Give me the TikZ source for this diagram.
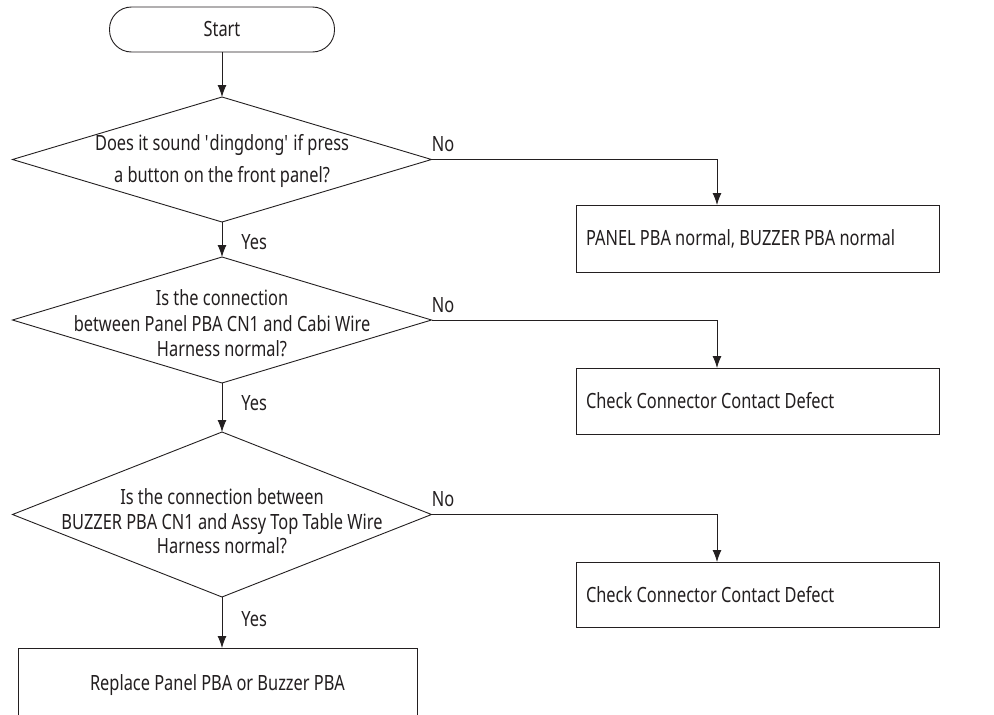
\documentclass[tikz,border=0pt]{standalone}
\usepackage{fontspec}
\setmainfont{Noto Sans}[FakeStretch=0.78, Ligatures=NoCommon]
\usetikzlibrary{arrows.meta,shapes.geometric,calc}
\definecolor{ink}{HTML}{231F20}
% one line at the font's own word spacing inside boxes with a set text width
\newcommand\fontspaces[1]{{\spaceskip=0pt\xspaceskip=0pt\mbox{#1}}}
\begin{document}
\begin{tikzpicture}[x=1pt,y=-1pt,
  font=\fontsize{21}{25}\selectfont,
  line/.style={draw=ink, line width=0.9pt},
  arr/.style={line, -{Latex[length=12pt,width=9pt]}},
  terminal/.style={line, rectangle, rounded corners=22pt, minimum width=225pt,
    minimum height=45pt, inner sep=0pt, outer sep=0pt, text=ink},
  decision/.style={line, diamond, minimum width=419pt, inner sep=0pt, outer sep=0pt},
  qtext/.style={align=center, text=ink, inner sep=0pt},
  action/.style={line, rectangle, minimum width=363pt, minimum height=66pt,
    text width=343pt, align=left, inner xsep=10pt, inner ysep=0pt,
    outer sep=0pt, text=ink},
  tag/.style={text=ink, inner sep=0pt}
]
\useasboundingbox (0,0) rectangle (994,715);
\fill[white] (0,0) rectangle (994,715);

% start
\node[terminal] (start) at (222,29.5) {Start};

% decisions
\node[decision, minimum height=125pt] (d1) at (222,159.5) {};
\node[qtext, font=\fontsize{21}{32}\selectfont] (q1) at (222,161)
  {Does it sound \textquotesingle dingdong\textquotesingle{} if press\\a button on the front panel?};

\node[decision, minimum height=126pt] (d2) at (222,320) {};
\node[qtext, font=\fontsize{21}{25.5}\selectfont] (q2) at (222,323.5)
  {Is the connection\\between Panel PBA CN1 and Cabi Wire\\Harness normal?};

\node[decision, minimum height=165pt] (d3) at (222,514.5) {};
\node[qtext, font=\fontsize{21}{24.5}\selectfont] (q3) at (222,521.5)
  {Is the connection between\\BUZZER PBA CN1 and Assy Top Table Wire\\Harness normal?};

% outcomes
\node[action, minimum height=67pt] (b1) at (757.5,238.5) {\fontspaces{PANEL PBA normal, BUZZER PBA normal}};
\node[action] (b2) at (757.5,401) {\fontspaces{Check Connector Contact Defect}};
\node[action, minimum height=65pt] (b3) at (757.5,594.5) {\fontspaces{Check Connector Contact Defect}};
\begin{scope}
  \clip (0,0) rectangle (994,715);
  \node[action, minimum width=399pt, text width=379pt, minimum height=74pt,
    align=center] (b4) at (217.5,685) {\fontspaces{Replace Panel PBA or Buzzer PBA}};
\end{scope}

% connectors
\draw[arr] (start.south) -- (d1.north);
\draw[arr] (d1.south) -- node[tag, pos=0.57, right=19pt] {Yes} (d2.north);
\draw[arr] (d2.south) -- node[tag, pos=0.41, right=19pt] {Yes} (d3.north);
\draw[arr] (d3.south) -- node[tag, pos=0.43, right=19pt] {Yes} (d3.south |- b4.north);

\draw[arr] (d1.east) node[tag, anchor=base west, yshift=8pt] {No}
  -| ($(b1.north west)+(141,0)$);
\draw[arr] (d2.east) node[tag, anchor=base west, yshift=8pt] {No}
  -| ($(b2.north west)+(141,0)$);
\draw[arr] (d3.east) node[tag, anchor=base west, yshift=8pt] {No}
  -| ($(b3.north west)+(141,0)$);
\end{tikzpicture}
\end{document}
